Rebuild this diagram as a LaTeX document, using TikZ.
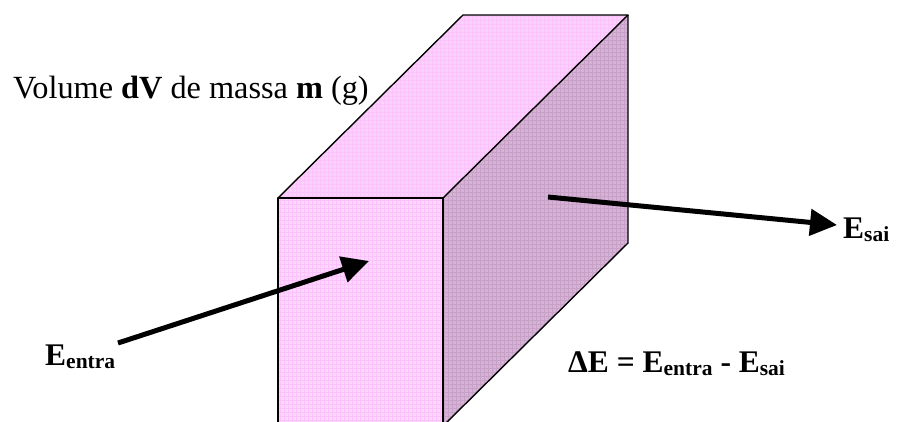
\documentclass[tikz,border=0pt]{standalone}
\usepackage{fontspec}
\setmainfont{Liberation Serif}
\usetikzlibrary{arrows.meta}
\definecolor{frontc}{RGB}{251,216,251}
\definecolor{topc}{RGB}{249,210,249}
\definecolor{sidec}{RGB}{216,176,216}
\newcommand{\lowtxt}[1]{\raisebox{-3.5pt}{\fontsize{21.5}{24}\selectfont #1}}
\tikzset{
  every node/.style={font=\fontsize{31.5}{36}\selectfont,inner sep=0pt},
  face/.style={draw=black,line width=1.4pt,line join=round},
  texfront/.style={draw=frontc!90!magenta,line width=0.45pt},
  texside/.style={draw=sidec!92!black,line width=0.45pt},
  flow/.style={-{Triangle[length=27pt,width=26pt]},line width=5pt},
  lbl/.style={anchor=base west,font=\fontsize{31.5}{36}\selectfont\bfseries},
}
\begin{document}
\begin{tikzpicture}[x=1pt,y=-1pt]
  \useasboundingbox (0,0) rectangle (901,421);
  \clip (0,0) rectangle (901,421);

  % corners of the volume element
  \coordinate (ftl) at (278,198);
  \coordinate (ftr) at (443,198);
  \coordinate (fbl) at (278,426);
  \coordinate (fbr) at (443,426);
  \coordinate (btl) at (463,15);
  \coordinate (btr) at (628,15);
  \coordinate (bbr) at (628,243);

  % faces
  \fill[topc] (ftl) -- (btl) -- (btr) -- (ftr) -- cycle;
  \fill[sidec] (ftr) -- (btr) -- (bbr) -- (fbr) -- cycle;
  \fill[frontc] (ftl) rectangle (fbr);
  \begin{scope}
    \clip (ftl) -- (btl) -- (btr) -- (ftr) -- cycle (ftl) rectangle (fbr);
    \draw[texfront,step=4pt] (276,13) grid (630,428);
  \end{scope}
  \begin{scope}
    \clip (ftr) -- (btr) -- (bbr) -- (fbr) -- cycle;
    \draw[texside,step=4pt] (440,13) grid (630,428);
  \end{scope}
  \draw[face] (ftl) -- (btl) -- (btr) -- (ftr);
  \draw[face] (btr) -- (bbr) -- (fbr);
  \draw[face] (ftl) rectangle (fbr);

  % labels
  \node[anchor=base west,font=\fontsize{32.3}{36}\selectfont] (vol) at (13,98) {Volume \textbf{dV} de massa \textbf{m} (g)};
  \node[lbl] (ein) at (45,365) {E\lowtxt{entra}};
  \node[lbl] (eout) at (843,238) {E\lowtxt{sai}};
  \node[lbl] (bal) at (568,372) {ΔE = E\lowtxt{entra} - E\lowtxt{sai}};

  % energy flows
  \coordinate (inA) at (118,343);
  \coordinate (inB) at (369,261);
  \coordinate (outA) at (548,197);
  \coordinate (outB) at (837,225);
  \draw[flow] (inA) -- (inB);
  \draw[flow] (outA) -- (outB);
\end{tikzpicture}
\end{document}
